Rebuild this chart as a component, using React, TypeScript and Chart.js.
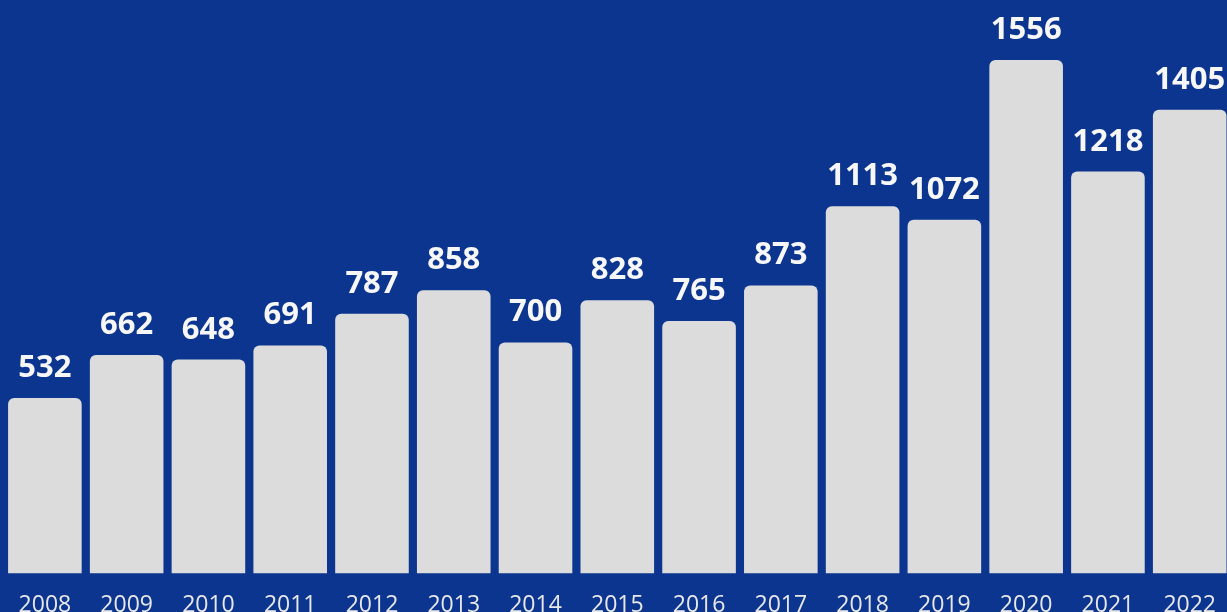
import React, { useEffect, useRef } from "react";
import { Chart, registerables } from "chart.js";

Chart.register(...registerables);

const years = ["2008", "2009", "2010", "2011", "2012", "2013", "2014", "2015", "2016", "2017", "2018", "2019", "2020", "2021", "2022"];
const counts = [532, 662, 648, 691, 787, 858, 700, 828, 765, 873, 1113, 1072, 1556, 1218, 1405];

const BG = "#0b358f";
const BAR = "#dcdcdc";

const valueLabels = {
  id: "valueLabels",
  afterDatasetsDraw(chart: any) {
    const ctx = chart.ctx;
    const meta = chart.getDatasetMeta(0);
    ctx.save();
    ctx.font = "bold 31px 'Open Sans'";
    ctx.fillStyle = "#f7f7f7";
    ctx.textAlign = "center";
    ctx.textBaseline = "alphabetic";
    meta.data.forEach((bar: any, i: number) => {
      ctx.fillText(String(counts[i]), bar.x, bar.y - 21);
    });
    ctx.restore();
  },
};

export default function App() {
  const ref = useRef<HTMLCanvasElement>(null);
  useEffect(() => {
    document.body.style.margin = "0";
    document.body.style.overflow = "hidden";
    const chart = new Chart(ref.current!, {
      type: "bar",
      data: {
        labels: years,
        datasets: [
          {
            data: counts,
            backgroundColor: BAR,
            borderRadius: 6,
            borderSkipped: "start",
            barPercentage: 0.9,
            categoryPercentage: 1,
          },
        ],
      },
      options: {
        responsive: false,
        animation: false,
        devicePixelRatio: 1,
        layout: { padding: { left: 4, right: 0, top: 0, bottom: 0 } },
        plugins: { legend: { display: false }, tooltip: { enabled: false } },
        scales: {
          x: {
            grid: { display: false, drawTicks: false },
            border: { display: false },
            ticks: {
              color: "#e8e8e8",
              font: { family: "'Open Sans'", size: 23 },
              padding: 18,
              maxRotation: 0,
              autoSkip: false,
            },
          },
          y: {
            display: false,
            min: 0,
            max: 1738,
          },
        },
      },
      plugins: [valueLabels],
    });
    return () => chart.destroy();
  }, []);
  return (
    <div style={{ position: "fixed", left: 0, top: 0, width: 1227, height: 612, overflow: "hidden", background: BG }}>
      <canvas ref={ref} width={1234} height={637} style={{ width: 1234, height: 637, display: "block" }} />
    </div>
  );
}
